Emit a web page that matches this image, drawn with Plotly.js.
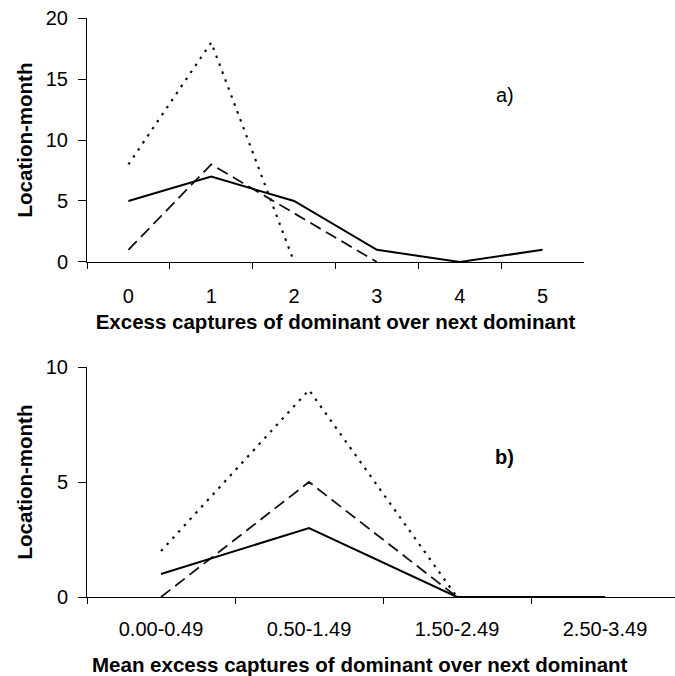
<!DOCTYPE html>
<html>
<head>
<meta charset="utf-8">
<script src="https://cdn.plot.ly/plotly-3.0.1.min.js"></script>
<style>html,body{margin:0;padding:0;background:#fff;}#chart{width:675px;height:676px;}</style>
</head>
<body>
<div id="chart"></div>
<script>
// Panel a) data
const catsA = ["0", "1", "2", "3", "4", "5"];
const solidA = [5, 7, 5, 1, 0, 1];
const dashedA = [1, 8, 4, 0, null, null];
const dottedA = [8, 18, 0, null, null, null];
// Panel b) data
const catsB = ["0.00-0.49", "0.50-1.49", "1.50-2.49", "2.50-3.49"];
const solidB = [1, 3, 0, 0];
const dashedB = [0, 5, 0, null];
const dottedB = [2, 9, 0, null];

const FONT = "Liberation Sans, Arial, sans-serif";
const lineSolid = {color: "#000", width: 2};
const lineDash = {color: "#111", width: 1.8, dash: "12px,6px"};
const lineDot = {color: "#111", width: 2.2, dash: "2.5px,6px"};

const traces = [
  {x: catsA, y: dottedA, type: "scatter", mode: "lines", line: lineDot, xaxis: "x", yaxis: "y"},
  {x: catsA, y: dashedA, type: "scatter", mode: "lines", line: lineDash, xaxis: "x", yaxis: "y"},
  {x: catsA, y: solidA, type: "scatter", mode: "lines", line: lineSolid, xaxis: "x", yaxis: "y"},
  {x: catsB, y: dottedB, type: "scatter", mode: "lines", line: lineDot, xaxis: "x2", yaxis: "y2"},
  {x: catsB, y: dashedB, type: "scatter", mode: "lines", line: lineDash, xaxis: "x2", yaxis: "y2"},
  {x: catsB, y: solidB, type: "scatter", mode: "lines", line: lineSolid, xaxis: "x2", yaxis: "y2"}
];

const axBase = {
  showgrid: false, zeroline: false, showline: true, linecolor: "#000", linewidth: 1,
  ticks: "outside", tickcolor: "#000", tickwidth: 1,
  tickfont: {family: FONT, size: 20, color: "#000"}, fixedrange: true
};
const titleFont = {family: FONT, size: 20.5, color: "#000", weight: 700};

const layout = {
  width: 675, height: 676,
  margin: {l: 87, r: 0, t: 18, b: 79},
  paper_bgcolor: "#fff", plot_bgcolor: "#fff",
  showlegend: false,
  font: {family: FONT, color: "#000"},
  xaxis: Object.assign({}, axBase, {
    type: "category", categoryarray: catsA, domain: [0, 0.8452], range: [-0.5, 5.5],
    anchor: "y", tickson: "boundaries", ticklen: 6, ticklabelstandoff: 16,
    title: {text: "Excess captures of dominant over next dominant", font: titleFont, standoff: 8}
  }),
  yaxis: Object.assign({}, axBase, {
    domain: [0.5786, 1], range: [0, 20], tickvals: [0, 5, 10, 15, 20], ticklen: 8,
    anchor: "x", ticklabelstandoff: 6,
    title: {text: "Location-month", font: titleFont, standoff: 7}
  }),
  xaxis2: Object.assign({}, axBase, {
    type: "category", categoryarray: catsB, domain: [0, 1], range: [-0.5, 3.473],
    anchor: "y2", tickson: "boundaries", ticklen: 6, ticklabelstandoff: 14
  }),
  yaxis2: Object.assign({}, axBase, {
    domain: [0, 0.3972], range: [0, 10], tickvals: [0, 5, 10], ticklen: 8,
    anchor: "x2", ticklabelstandoff: 6,
    title: {text: "Location-month", font: titleFont, standoff: 7}
  }),
  annotations: [
    {text: "a)", xref: "x", yref: "y", x: 4.55, y: 13.7, showarrow: false,
     font: {family: FONT, size: 20, color: "#000"}},
    {text: "b)", xref: "x2", yref: "y2", x: 2.32, y: 6.1, showarrow: false,
     font: {family: FONT, size: 20, color: "#000", weight: 700}},
    {text: "Mean excess captures of dominant over next dominant", xref: "paper", yref: "paper",
     x: (360 - 87) / 588, y: -0.117, xanchor: "center", yanchor: "middle", showarrow: false,
     font: titleFont}
  ]
};

Plotly.newPlot("chart", traces, layout, {displayModeBar: false, staticPlot: true});
</script>
</body>
</html>
